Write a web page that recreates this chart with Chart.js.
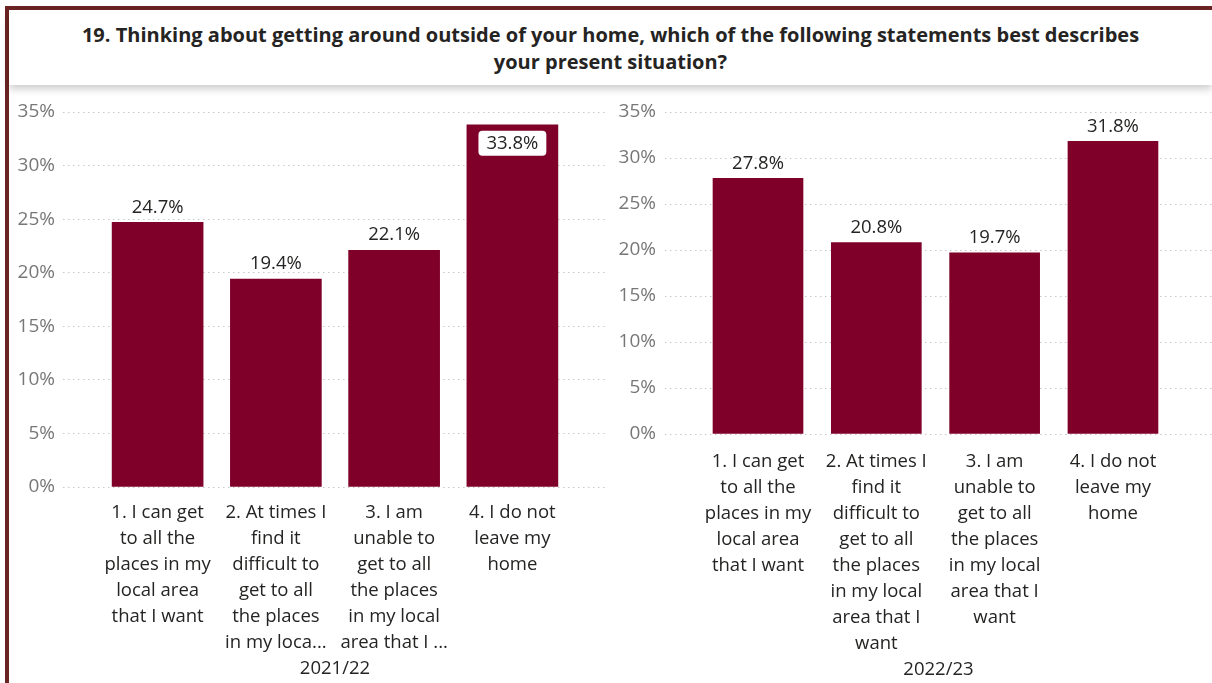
<!DOCTYPE html>
<html>
<head>
<meta charset="utf-8">
<script src="https://cdn.jsdelivr.net/npm/chart.js@4/dist/chart.umd.min.js"></script>
<style>
  body {
    margin: 0;
    width: 1212px;
    height: 683px;
    background: #fff;
    overflow: hidden;
    position: relative;
    font-family: 'Segoe UI', 'Open Sans', sans-serif;
  }
  .frame {
    position: absolute;
    left: 5px;
    top: 6px;
    right: -10px;
    bottom: -10px;
    border-left: 4px solid #6b2423;
    border-top: 4px solid #6b2423;
  }
  .header {
    position: absolute;
    left: 9px;
    right: 0;
    top: 10px;
    height: 75px;
    box-sizing: border-box;
    padding-top: 11px;
    background: #fff;
    box-shadow: 0 4px 8px rgba(0, 0, 0, 0.2);
    text-align: center;
    font-weight: 700;
    font-size: 20px;
    line-height: 27px;
    color: #252423;
  }
  .chart-box {
    position: absolute;
    top: 90px;
    height: 593px;
  }
</style>
</head>
<body>
<div class="frame"></div>
<div class="header">19. Thinking about getting around outside of your home, which of the following statements best describes<br>your present situation?</div>
<div class="chart-box" style="left:0;width:610px"><canvas id="chart_2122"></canvas></div>
<div class="chart-box" style="left:610px;width:602px"><canvas id="chart_2223"></canvas></div>

<script>
const labels2122 = [
  ['1. I can get', 'to all the', 'places in my', 'local area', 'that I want'],
  ['2. At times I', 'find it', 'difficult to', 'get to all', 'the places', 'in my loca...'],
  ['3. I am', 'unable to', 'get to all', 'the places', 'in my local', 'area that I ...'],
  ['4. I do not', 'leave my', 'home']
];
const labels2223 = [
  ['1. I can get', 'to all the', 'places in my', 'local area', 'that I want'],
  ['2. At times I', 'find it', 'difficult to', 'get to all', 'the places', 'in my local', 'area that I', 'want'],
  ['3. I am', 'unable to', 'get to all', 'the places', 'in my local', 'area that I', 'want'],
  ['4. I do not', 'leave my', 'home']
];
const values2122 = [24.7, 19.4, 22.1, 33.8];
const values2223 = [27.8, 20.8, 19.7, 31.8];
const yTicks = [0, 5, 10, 15, 20, 25, 30, 35];

const barColor = '#7f0029';
const textColor = '#252423';
const fontFamily = "'Segoe UI', 'Open Sans', sans-serif";

// value labels: above the bar, or inside on a white tag when there is no room
const valueLabels = {
  id: 'valueLabels',
  afterDatasetsDraw(chart) {
    const { ctx, chartArea } = chart;
    const values = chart.data.datasets[0].data.map(d => d.y);
    ctx.save();
    ctx.font = `18.5px ${fontFamily}`;
    ctx.textAlign = 'center';
    ctx.textBaseline = 'middle';
    chart.getDatasetMeta(0).data.forEach((bar, i) => {
      const text = values[i].toFixed(1) + '%';
      let y = bar.y - 15;
      if (y - 10 < chartArea.top) {
        const w = ctx.measureText(text).width + 16;
        y = bar.y + 18.5;
        ctx.fillStyle = '#fff';
        ctx.beginPath();
        ctx.roundRect(bar.x - w / 2, y - 12.5, w, 25, 4);
        ctx.fill();
      }
      ctx.fillStyle = textColor;
      ctx.fillText(text, bar.x, y);
    });
    ctx.restore();
  }
};

function drawYearChart(canvasId, labels, values, year, s) {
  return new Chart(document.getElementById(canvasId), {
    type: 'bar',
    data: {
      datasets: [{
        data: values.map((v, i) => ({ x: i, y: v })),
        backgroundColor: barColor,
        barThickness: s.barWidth
      }]
    },
    plugins: [valueLabels],
    options: {
      responsive: true,
      maintainAspectRatio: false,
      animation: false,
      layout: { padding: { top: 22, right: s.right, left: 0, bottom: 0 } },
      plugins: {
        legend: { display: false },
        tooltip: { enabled: false }
      },
      scales: {
        x: {
          type: 'linear',
          min: s.xMin,
          max: s.xMax,
          offset: false,
          afterFit: (scale) => { scale.height = s.xHeight; },
          grid: { display: false, offset: false },
          border: { display: false },
          ticks: {
            stepSize: 1,
            includeBounds: false,
            autoSkip: false,
            maxRotation: 0,
            padding: s.tickPad,
            color: textColor,
            font: { family: fontFamily, size: 18.5, lineHeight: 26 / 18.5 },
            callback: (value) => labels[value] || ''
          },
          title: {
            display: true,
            text: year,
            color: textColor,
            font: { family: fontFamily, size: 18.5 },
            padding: { top: 0, bottom: s.titlePad }
          }
        },
        y: {
          min: 0,
          max: 35,
          afterFit: (scale) => { scale.width = s.yWidth; },
          afterBuildTicks: (scale) => { scale.ticks = yTicks.map(v => ({ value: v })); },
          grid: { color: '#c8c8c8', lineWidth: 1, drawTicks: false },
          border: { display: false, dash: [1.5, 3.5] },
          ticks: {
            padding: s.yPad,
            color: '#777777',
            font: { family: fontFamily, size: 19 },
            callback: (value) => value + '%'
          }
        }
      }
    }
  });
}

drawYearChart('chart_2122', labels2122, values2122, '2021/22', {
  barWidth: 91, xMin: -0.8, xMax: 3.8, right: 3,
  xHeight: 196, tickPad: 5, titlePad: 3, yWidth: 63, yPad: 8
});

drawYearChart('chart_2223', labels2223, values2223, '2022/23', {
  barWidth: 90, xMin: -0.786, xMax: 3.837, right: 0,
  xHeight: 249, tickPad: 7, titlePad: 2, yWidth: 55, yPad: 9
});
</script>
</body>
</html>
